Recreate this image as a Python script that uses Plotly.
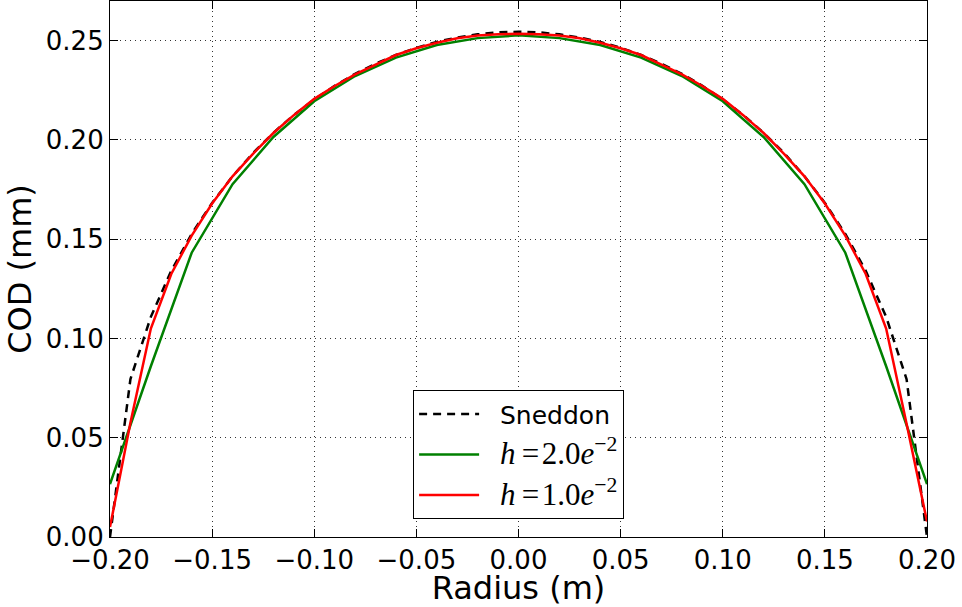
import plotly.graph_objects as go

# Radial positions (m)
r_fine = [round(-0.20 + 0.01 * i, 2) for i in range(41)]
r_coarse = [round(-0.20 + 0.02 * i, 2) for i in range(21)]

# Crack opening displacement (mm): analytical Sneddon solution
cod_sneddon = [0.0000, 0.0795, 0.1109, 0.1341, 0.1527, 0.1683, 0.1817, 0.1934,
               0.2036, 0.2126, 0.2204, 0.2273, 0.2333, 0.2384, 0.2428, 0.2464,
               0.2494, 0.2516, 0.2532, 0.2542, 0.2545, 0.2542, 0.2532, 0.2516,
               0.2494, 0.2464, 0.2428, 0.2384, 0.2333, 0.2273, 0.2204, 0.2126,
               0.2036, 0.1934, 0.1817, 0.1683, 0.1527, 0.1341, 0.1109, 0.0795,
               0.0000]

# Numerical COD, mesh size h = 2.0e-2
cod_h2 = [0.0266, 0.0860, 0.1432, 0.1777, 0.2015, 0.2195, 0.2322, 0.2415,
          0.2478, 0.2513, 0.2527, 0.2513, 0.2478, 0.2415, 0.2322, 0.2195,
          0.2015, 0.1777, 0.1432, 0.0860, 0.0266]

# Numerical COD, mesh size h = 1.0e-2
cod_h1 = [0.0050, 0.0575, 0.1050, 0.1325, 0.1518, 0.1680, 0.1817, 0.1930,
          0.2035, 0.2125, 0.2207, 0.2272, 0.2330, 0.2380, 0.2428, 0.2462,
          0.2490, 0.2512, 0.2526, 0.2533, 0.2535, 0.2533, 0.2526, 0.2512,
          0.2490, 0.2462, 0.2428, 0.2380, 0.2330, 0.2272, 0.2207, 0.2125,
          0.2035, 0.1930, 0.1817, 0.1680, 0.1518, 0.1325, 0.1050, 0.0570,
          0.0078]

x_ticks = [-0.20, -0.15, -0.10, -0.05, 0.00, 0.05, 0.10, 0.15, 0.20]
y_ticks = [0.00, 0.05, 0.10, 0.15, 0.20, 0.25]

PAD = "\u00a0\u00a0"
SERIF = "font-family:'Liberation Serif',serif;font-size:31px"


def mesh_label(value):
    return (f"{PAD}<span style=\"{SERIF}\"><i>h</i>\u2009=\u200a{value}"
            f"<i>e</i><sup>\u22122</sup></span>")


fig = go.Figure()
fig.add_trace(go.Scatter(x=r_fine, y=cod_sneddon, mode="lines",
                         name=PAD + "Sneddon", legendgroup="a",
                         line=dict(color="black", width=2.5, dash="8px,6px")))
fig.add_trace(go.Scatter(x=r_coarse, y=cod_h2, mode="lines",
                         name=mesh_label("2.0"), legendgroup="b",
                         line=dict(color="#008000", width=2.5)))
fig.add_trace(go.Scatter(x=r_fine, y=cod_h1, mode="lines",
                         name=mesh_label("1.0"), legendgroup="c",
                         line=dict(color="#ff0000", width=2.5)))

axis_common = dict(
    showline=True, linecolor="black", linewidth=1.2, mirror="ticks",
    ticks="inside", ticklen=8, tickwidth=1, tickcolor="black",
    showgrid=True, gridcolor="#333333", gridwidth=1, griddash="1px,4px",
    zeroline=False, tickfont=dict(family="DejaVu Sans", size=26, color="black"),
    tickformat=".2f",
)

fig.update_xaxes(range=[-0.2, 0.2], tickvals=x_ticks,
                 title=dict(text="Radius (m)", standoff=2,
                            font=dict(family="DejaVu Sans", size=32, color="black")),
                 **axis_common)
fig.update_yaxes(range=[0, 0.27], tickvals=y_ticks,
                 title=dict(text="COD (mm)", standoff=4,
                            font=dict(family="DejaVu Sans", size=32, color="black")),
                 **axis_common)

fig.update_layout(
    width=962, height=607,
    margin=dict(l=110, r=35, t=1, b=70, autoexpand=False),
    plot_bgcolor="white", paper_bgcolor="white",
    showlegend=True,
    legend=dict(x=0.371, y=0.274, xanchor="left", yanchor="top",
                bgcolor="white", bordercolor="black", borderwidth=1,
                font=dict(family="DejaVu Sans", size=25, color="black"),
                itemwidth=60, tracegroupgap=5),
)

fig.write_html("out.html")
